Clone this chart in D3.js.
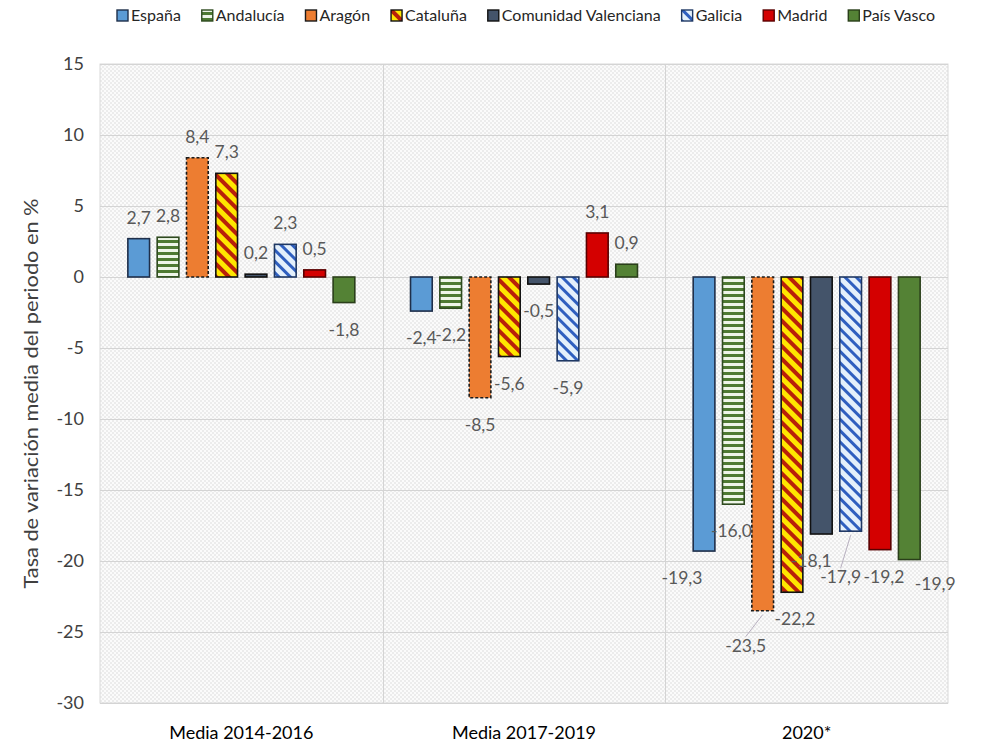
<!DOCTYPE html>
<html>
<head>
<meta charset="utf-8">
<script src="https://cdn.jsdelivr.net/npm/d3@7"></script>
<style>
  body { margin: 0; background: #fff; }
  svg { display: block; font-family: Lato, "Open Sans", "Liberation Sans", sans-serif; }
</style>
</head>
<body>
<svg id="chart" width="984" height="747"></svg>
<script>
// ---- data ----
const categories = ["Media 2014-2016", "Media 2017-2019", "2020*"];
const seriesNames = ["España", "Andalucía", "Aragón", "Cataluña", "Comunidad Valenciana", "Galicia", "Madrid", "País Vasco"];
const espana     = [2.7, -2.4, -19.3];
const andalucia  = [2.8, -2.2, -16.0];
const aragon     = [8.4, -8.5, -23.5];
const cataluna   = [7.3, -5.6, -22.2];
const comVal     = [0.2, -0.5, -18.1];
const galicia    = [2.3, -5.9, -17.9];
const madrid     = [0.5, 3.1, -19.2];
const paisVasco  = [-1.8, 0.9, -19.9];
const seriesValues = [espana, andalucia, aragon, cataluna, comVal, galicia, madrid, paisVasco];
const yTicks = [15, 10, 5, 0, -5, -10, -15, -20, -25, -30];

// label nudges (px) for the 2020 group, as placed in the original
const labelNudge2020 = [[-22, 0], [-2, 0], [-17, 8], [3, 0], [-10, 0], [-10, 19], [4, 0], [26, -3]];
const leaderLine2020 = [false, false, true, false, false, true, false, false];

// ---- styles ----
const styles = [
  { fill: "#5B9BD5", stroke: "#1F2F4A", dash: null },
  { fill: "url(#pAnd)", stroke: "#2E4A1F", dash: null },
  { fill: "#ED7D31", stroke: "#1a1a1a", dash: "3,2" },
  { fill: "url(#pCat)", stroke: "#111", dash: null },
  { fill: "#44546A", stroke: "#111", dash: null },
  { fill: "url(#pGal)", stroke: "#1F3864", dash: null },
  { fill: "#D40000", stroke: "#5a0000", dash: null },
  { fill: "#548235", stroke: "#2A3F1A", dash: null }
];

const svg = d3.select("#chart");
const defs = svg.append("defs");

// plot background pattern (fine checker)
const pBg = defs.append("pattern").attr("id", "pBg").attr("width", 4).attr("height", 4).attr("patternUnits", "userSpaceOnUse");
pBg.append("rect").attr("width", 4).attr("height", 4).attr("fill", "#fbfbfb");
pBg.append("rect").attr("width", 2).attr("height", 2).attr("fill", "#ececec");
pBg.append("rect").attr("x", 2).attr("y", 2).attr("width", 2).attr("height", 2).attr("fill", "#ececec");

// Andalucía horizontal stripes
const pAnd = defs.append("pattern").attr("id", "pAnd").attr("width", 6).attr("height", 6).attr("patternUnits", "userSpaceOnUse");
pAnd.append("rect").attr("width", 6).attr("height", 6).attr("fill", "#EEF5E8");
pAnd.append("rect").attr("width", 6).attr("height", 3).attr("fill", "#4E7A32");

// Cataluña diagonal stripes
const pCat = defs.append("pattern").attr("id", "pCat").attr("width", 9).attr("height", 9)
  .attr("patternUnits", "userSpaceOnUse").attr("patternTransform", "rotate(-45)");
pCat.append("rect").attr("width", 9).attr("height", 9).attr("fill", "#FFE600");
pCat.append("rect").attr("width", 4).attr("height", 9).attr("fill", "#B8200A");

// Galicia diagonal stripes
const pGal = defs.append("pattern").attr("id", "pGal").attr("width", 8).attr("height", 8)
  .attr("patternUnits", "userSpaceOnUse").attr("patternTransform", "rotate(-45)");
pGal.append("rect").attr("width", 8).attr("height", 8).attr("fill", "#E4F0FB");
pGal.append("rect").attr("width", 3).attr("height", 8).attr("fill", "#2F5FBF");

// ---- scales ----
const plotL = 100, plotR = 948, plotT = 64, plotB = 703;
const y = d3.scaleLinear().domain([-30, 15]).range([plotB, plotT]);
const x0 = d3.scaleBand().domain(categories).range([plotL, plotR]).padding(0);
const x1 = d3.scaleBand().domain(seriesNames).range([0, x0.bandwidth()]).paddingInner(0.26).paddingOuter(0.95);

// plot area
svg.append("rect").attr("x", plotL).attr("y", plotT).attr("width", plotR - plotL).attr("height", plotB - plotT)
  .attr("fill", "url(#pBg)").attr("stroke", "#d9d9d9").attr("stroke-width", 1);

// horizontal gridlines
svg.append("g").selectAll("line").data(yTicks).join("line")
  .attr("x1", plotL).attr("x2", plotR)
  .attr("y1", d => Math.round(y(d)) + 0.5).attr("y2", d => Math.round(y(d)) + 0.5)
  .attr("stroke", "#d4d4d4").attr("stroke-width", 1);

// vertical category dividers
svg.append("g").selectAll("line").data(categories.slice(1)).join("line")
  .attr("x1", d => Math.round(x0(d)) + 0.5).attr("x2", d => Math.round(x0(d)) + 0.5)
  .attr("y1", plotT).attr("y2", plotB)
  .attr("stroke", "#d4d4d4").attr("stroke-width", 1);

// y axis labels
const yAxis = d3.axisLeft(y).tickValues(yTicks).tickSize(0).tickPadding(0).tickFormat(d => String(d));
const yG = svg.append("g").attr("transform", `translate(${plotL - 16},0)`).call(yAxis);
yG.select(".domain").remove();
yG.selectAll("text").attr("font-size", 18).attr("fill", "#404040").attr("font-family", "Lato, sans-serif");

// y axis title
svg.append("text").attr("transform", `translate(38,${(plotT + plotB) / 2 + 10}) rotate(-90)`)
  .attr("text-anchor", "middle").attr("font-size", 19).attr("fill", "#404040")
  .attr("textLength", 390).attr("lengthAdjust", "spacingAndGlyphs")
  .text("Tasa de variación media del periodo en %");

// x axis labels
const xAxis = d3.axisBottom(x0).tickSize(0).tickPadding(0);
const xG = svg.append("g").attr("transform", `translate(0,739)`).call(xAxis);
xG.select(".domain").remove();
xG.selectAll("text").attr("y", 0).attr("dy", null).attr("font-size", 18).attr("fill", "#000")
  .attr("font-family", "Lato, sans-serif");

// bars
const fmt = v => v.toFixed(1).replace(".", ",");
const bars = [];
seriesValues.forEach((vals, si) => {
  vals.forEach((v, ci) => bars.push({ si, ci, v, cat: categories[ci], name: seriesNames[si] }));
});

const barG = svg.append("g");
barG.selectAll("rect").data(bars).join("rect")
  .attr("x", d => x0(d.cat) + x1(d.name))
  .attr("width", x1.bandwidth())
  .attr("y", d => y(Math.max(0, d.v)))
  .attr("height", d => Math.abs(y(d.v) - y(0)))
  .attr("fill", d => styles[d.si].fill)
  .attr("stroke", d => styles[d.si].stroke)
  .attr("stroke-width", 1.6)
  .attr("stroke-dasharray", d => styles[d.si].dash);

// data labels
function labelPos(d) {
  const cx = x0(d.cat) + x1(d.name) + x1.bandwidth() / 2;
  let lx = cx, ly = d.v >= 0 ? y(d.v) - 15 : y(d.v) + 33;
  if (d.ci === 2) { lx += labelNudge2020[d.si][0]; ly += labelNudge2020[d.si][1]; }
  return [lx, ly, cx];
}
const leaders = bars.filter(d => d.ci === 2 && leaderLine2020[d.si]);
svg.append("g").selectAll("line").data(leaders).join("line")
  .attr("x1", d => labelPos(d)[2]).attr("y1", d => y(d.v) + 4)
  .attr("x2", d => labelPos(d)[0])
  .attr("y2", d => labelPos(d)[1] - 15)
  .attr("stroke", "#b8b0c0").attr("stroke-width", 1);

svg.append("g").selectAll("text").data(bars).join("text")
  .attr("x", d => labelPos(d)[0])
  .attr("y", d => labelPos(d)[1])
  .attr("text-anchor", "middle")
  .attr("font-size", 17.5).attr("fill", "#595959")
  .text(d => fmt(d.v));

// legend
const legend = svg.append("g");
const items = legend.selectAll("g").data(seriesNames).join("g");
items.append("rect").attr("width", 11).attr("height", 11).attr("y", 10)
  .attr("fill", (d, i) => styles[i].fill).attr("stroke", (d, i) => styles[i].stroke).attr("stroke-width", 1.4);
items.append("text").attr("x", 14).attr("y", 21).attr("font-size", 16).attr("fill", "#262626").text(d => d);
const widths = items.nodes().map(n => 14 + d3.select(n).select("text").node().getComputedTextLength());
const totalW = d3.sum(widths);
const legL = 117, legR = 935;
const gap = (legR - legL - totalW) / (seriesNames.length - 1);
let cx = legL;
items.each(function (d, i) {
  d3.select(this).attr("transform", `translate(${cx},0)`);
  cx += widths[i] + gap;
});
</script>
</body>
</html>
